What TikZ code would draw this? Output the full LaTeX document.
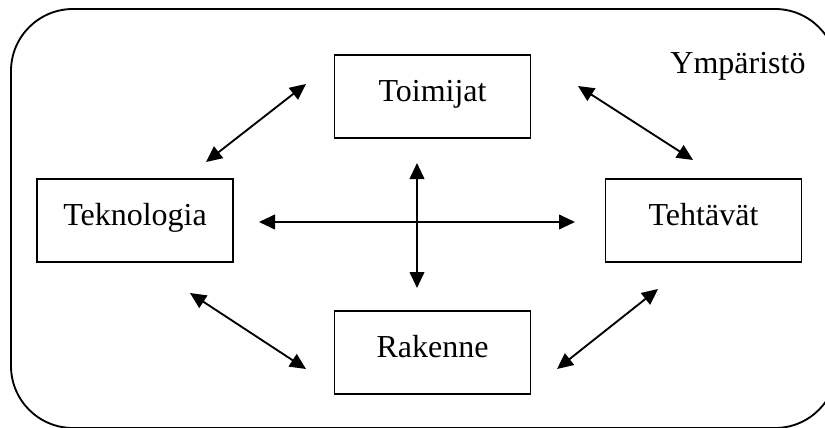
\documentclass[tikz,border=0pt]{standalone}
\usepackage{fontspec}
\setmainfont{Liberation Serif}
\usetikzlibrary{arrows.meta}
\begin{document}
\begin{tikzpicture}[x=0.75pt,y=-0.75pt,
  lbl/.style={font=\fontsize{24}{27}\selectfont, text height=0.8em, text depth=0pt},
  box/.style={lbl, draw, line width=1.3pt, minimum width=147pt, minimum height=62pt, inner sep=0pt},
  conn/.style={line width=1.4pt, {Triangle[length=12pt,width=11pt]}-{Triangle[length=12pt,width=11pt]}}]
\useasboundingbox (0,0) rectangle (825,428);
\begin{scope}
\clip (0,0) rectangle (825,428);
\draw[line width=1.4pt, rounded corners=46.5pt] (11,9) rectangle (837,428);
\end{scope}
\node[box] (toim) at (432.5,96.5) {Toimijat};
\node[box] (tekn) at (135,220.5) {Teknologia};
\node[box] (teht) at (703.5,220.5) {Tehtävät};
\node[box] (rak) at (432.5,352.5) {Rakenne};
\node[lbl, anchor=base] (ymp) at (738,74) {Ympäristö};
\coordinate (a1) at (206,162); \coordinate (a2) at (306,84);
\coordinate (b1) at (578,86); \coordinate (b2) at (693,160);
\coordinate (c1) at (190,293); \coordinate (c2) at (306,369);
\coordinate (d1) at (557,369); \coordinate (d2) at (658,289);
\coordinate (h1) at (259,222); \coordinate (h2) at (575,222);
\coordinate (v1) at (417,163); \coordinate (v2) at (417,288);
\draw[conn] (a1) -- (a2);
\draw[conn] (b1) -- (b2);
\draw[conn] (c1) -- (c2);
\draw[conn] (d1) -- (d2);
\draw[conn] (h1) -- (h2);
\draw[conn] (v1) -- (v2);
\end{tikzpicture}
\end{document}
